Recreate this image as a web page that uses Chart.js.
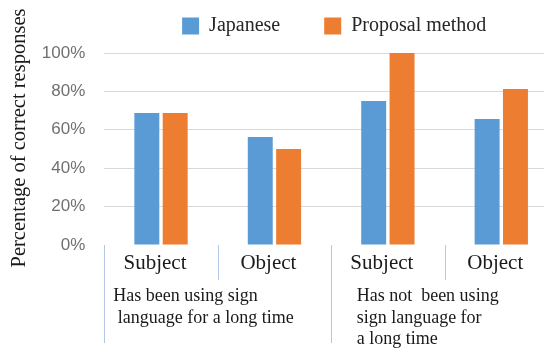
<!DOCTYPE html>
<html>
<head>
<meta charset="utf-8">
<script src="https://cdn.jsdelivr.net/npm/chart.js@4/dist/chart.umd.min.js"></script>
<style>
    html, body { margin: 0; padding: 0; background: #fff; overflow: hidden; }
    #wrap { position: relative; width: 560px; height: 352px; }
</style>
</head>
<body>
<div id="wrap"><canvas id="myChart" width="560" height="352"></canvas></div>
<script>
// --- Data ---
const categories = ['Subject', 'Object', 'Subject', 'Object'];
const japaneseValues = [68.75, 56.25, 75, 65.6];
const proposalValues = [68.75, 50, 100, 81.25];
const yTicks = [0, 20, 40, 60, 80, 100];
const groupLabels = [
    ['Has been using sign', ' language for a long time'],
    ['Has not  been using', 'sign language for', 'a long time']
];
const groupSizes = [2, 2];
const seriesNames = ['Japanese', 'Proposal method'];
const yTitle = 'Percentage of correct responses';

// --- Styles ---
const SERIF = "'Liberation Serif', 'Times New Roman', serif";
const groupInset = [9, 25.5]; // text offset from each group's left divider

// Legend gets a fixed height, then is nudged into place after layout
// Also draws the category dividers, group captions and the y title
const extrasPlugin = {
    id: 'extras',
    beforeInit(chart) {
        const legend = chart.legend;
        const fit = legend.fit;
        legend.fit = function () {
            fit.call(this);
            this.height = 53;
        };
    },
    afterLayout(chart) {
        chart.legend.top -= 28;
        chart.legend.left += 3;
        chart.legend.right += 3;
    },
    afterDraw(chart) {
        const { ctx, chartArea } = chart;
        const x = chart.scales.x;
        const half = (x.getPixelForValue(1) - x.getPixelForValue(0)) / 2;
        const base = chartArea.bottom;

        const groupStarts = [];
        let start = 0;
        groupSizes.forEach(n => { groupStarts.push(start); start += n; });

        ctx.save();
        ctx.strokeStyle = '#b4c7e7';
        ctx.lineWidth = 1;
        for (let i = 0; i <= categories.length; i++) {
            const px = Math.round(x.getPixelForValue(i) - half) + 0.5;
            const edge = groupStarts.includes(i) || i === categories.length;
            ctx.beginPath();
            ctx.moveTo(px, base);
            ctx.lineTo(px, base + (edge ? 98 : 35));
            ctx.stroke();
        }

        ctx.fillStyle = '#1a1a1a';
        ctx.font = '18px ' + SERIF;
        ctx.textAlign = 'left';
        ctx.textBaseline = 'alphabetic';
        groupLabels.forEach((lines, g) => {
            const left = x.getPixelForValue(groupStarts[g]) - half + groupInset[g];
            lines.forEach((line, j) => ctx.fillText(line, left, base + 56 + j * 21.5));
        });

        ctx.translate(20, 138);
        ctx.rotate(-Math.PI / 2);
        ctx.textAlign = 'center';
        ctx.textBaseline = 'middle';
        ctx.font = '20.5px ' + SERIF;
        ctx.fillText(yTitle, 0, 0);
        ctx.restore();
    }
};

const ctx = document.getElementById('myChart').getContext('2d');
const chart = new Chart(ctx, {
    type: 'bar',
    data: {
        labels: categories,
        datasets: [
            { label: seriesNames[0], data: japaneseValues, backgroundColor: '#5b9bd5' },
            { label: seriesNames[1], data: proposalValues, backgroundColor: '#ed7d31' }
        ]
    },
    options: {
        responsive: false,
        animation: false,
        devicePixelRatio: 1,
        layout: { padding: { left: 0, right: 2, top: 0, bottom: 0 } },
        datasets: { bar: { barPercentage: 0.88, categoryPercentage: 0.5 } },
        plugins: {
            tooltip: { enabled: false },
            legend: {
                position: 'top',
                fullSize: false,
                labels: {
                    boxWidth: 17,
                    boxHeight: 17,
                    padding: 44,
                    color: '#262626',
                    font: { family: SERIF, size: 20 }
                }
            }
        },
        scales: {
            x: {
                offset: true,
                grid: { display: false },
                border: { display: false },
                ticks: {
                    color: '#1a1a1a',
                    padding: -2,
                    labelOffset: -6,
                    maxRotation: 0,
                    font: { family: SERIF, size: 21 }
                },
                afterFit(scale) { scale.height = 107; }
            },
            y: {
                min: 0,
                max: 100,
                border: { display: false },
                grid: {
                    drawTicks: false,
                    color: c => c.tick && c.tick.value === 0 ? 'rgba(0,0,0,0)' : '#d9d9d9'
                },
                afterBuildTicks(scale) { scale.ticks = yTicks.map(v => ({ value: v })); },
                ticks: {
                    color: '#707070',
                    padding: 19,
                    font: { family: "'Liberation Sans', Arial, sans-serif", size: 17 },
                    callback: v => v + '%'
                },
                afterFit(scale) { scale.width = 104.3; }
            }
        }
    },
    plugins: [extrasPlugin]
});
</script>
</body>
</html>
